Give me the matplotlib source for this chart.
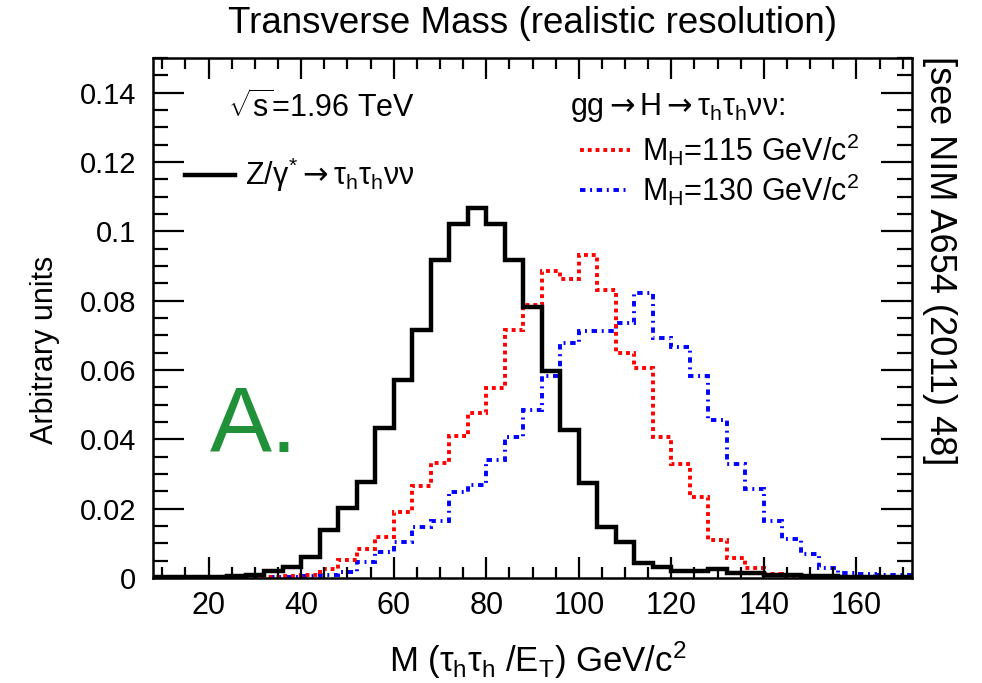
import numpy as np
import matplotlib
matplotlib.use('Agg')
import matplotlib.pyplot as plt
from matplotlib.ticker import MultipleLocator, FuncFormatter

plt.rcParams['font.family'] = ['Liberation Sans', 'DejaVu Sans']
plt.rcParams['mathtext.fontset'] = 'custom'
plt.rcParams['mathtext.rm'] = 'Liberation Sans'
plt.rcParams['mathtext.it'] = 'Liberation Sans'
plt.rcParams['mathtext.bf'] = 'Liberation Sans:bold'
plt.rcParams['mathtext.sf'] = 'DejaVu Sans'

# bin edges 8..172 GeV, width 4
edges = np.arange(8, 173, 4)

z_tautau = [0.0002, 0.0002, 0.0002, 0.0003, 0.0005, 0.0009, 0.0021, 0.0033, 0.0061, 0.0139,
            0.0201, 0.0278, 0.0432, 0.0572, 0.0716, 0.0918, 0.1022, 0.1068, 0.1022, 0.0916,
            0.0783, 0.0596, 0.0427, 0.0273, 0.0148, 0.0105, 0.0042, 0.0033, 0.0021, 0.0020,
            0.0025, 0.0015, 0.0013, 0.0010, 0.0008, 0.0006, 0.0005, 0.0004, 0.0003, 0.0003,
            0.0002]
higgs_115 = [0.0002, 0.0002, 0.0002, 0.0002, 0.0002, 0.0002, 0.0002, 0.0005, 0.0009, 0.0025,
             0.0052, 0.0083, 0.0117, 0.0191, 0.0264, 0.0331, 0.0410, 0.0477, 0.0548, 0.0716,
             0.0788, 0.0887, 0.0862, 0.0932, 0.0831, 0.0649, 0.0605, 0.0406, 0.0329, 0.0233,
             0.0110, 0.0057, 0.0028, 0.0012, 0.0007, 0.0003, 0.0003, 0.0003, 0.0003, 0.0003,
             0.0003]
higgs_130 = [0.0002, 0.0002, 0.0002, 0.0002, 0.0002, 0.0002, 0.0002, 0.0002, 0.0005, 0.0009,
             0.0018, 0.0047, 0.0076, 0.0105, 0.0148, 0.0165, 0.0249, 0.0268, 0.0340, 0.0408,
             0.0485, 0.0583, 0.0678, 0.0713, 0.0713, 0.0735, 0.0822, 0.0692, 0.0665, 0.0583,
             0.0456, 0.0328, 0.0256, 0.0165, 0.0112, 0.0069, 0.0028, 0.0015, 0.0012, 0.0010,
             0.0008]

fig = plt.figure(figsize=(9.82, 6.83), dpi=100)
ax = fig.add_axes([153 / 982, 105 / 683, 759 / 982, 520 / 683])

red_style = (0, (1, 1))
blue_style = (0, (1.4, 1.2, 0.5, 1.2))

ax.stairs(higgs_130, edges, color='blue', lw=2.8, linestyle=blue_style)
ax.stairs(higgs_115, edges, color='red', lw=2.8, linestyle=red_style)
ax.stairs(z_tautau, edges, color='black', lw=3.2)

ax.set_xlim(8, 172)
ax.set_ylim(0, 0.15)

ax.xaxis.set_major_locator(MultipleLocator(20))
ax.xaxis.set_minor_locator(MultipleLocator(5))
ax.yaxis.set_major_locator(MultipleLocator(0.02))
ax.yaxis.set_minor_locator(MultipleLocator(0.005))
ax.yaxis.set_major_formatter(FuncFormatter(lambda v, p: '0' if abs(v) < 1e-9 else ('%.2f' % v).rstrip('0')))

ax.tick_params(which='both', direction='in', top=True, right=True, width=1.6)
ax.tick_params(axis='x', which='major', length=15, labelsize=22, pad=9)
ax.tick_params(axis='x', which='minor', length=8)
ax.tick_params(axis='y', which='major', length=22, labelsize=21, pad=12)
ax.tick_params(axis='y', which='minor', length=11)
for s in ax.spines.values():
    s.set_linewidth(1.8)

ax.set_xlabel(r'M ($\tau_h\tau_h$ /E$_T$) GeV/c$^2$', fontsize=25, va='center')
ax.xaxis.set_label_coords(0.507, -0.158)
ax.set_ylabel('Arbitrary units', fontsize=22)
ax.yaxis.set_label_coords(-0.123, 0.438)
fig.text(532.5 / 982, 0.966, 'Transverse Mass (realistic resolution)', ha='center', va='center', fontsize=26.5)

# legend drawn by hand, as in the ROOT canvas
fs = 22
arrow = r'$\mathsf{\rightarrow}$'
ax.text(0.099, 0.904, r'$\sqrt{\mathrm{s}}$=1.96 TeV', transform=ax.transAxes, fontsize=fs, va='center')
ax.plot([0.042, 0.108], [0.775, 0.775], transform=ax.transAxes, color='black', lw=3.2)
ax.text(0.121, 0.775, r'Z/$\gamma^{*}$' + arrow + r'$\tau_h\tau_h\nu\nu$', transform=ax.transAxes, fontsize=fs, va='center')
ax.text(0.549, 0.904, 'gg' + arrow + 'H' + arrow + r'$\tau_h\tau_h\nu\nu$:', transform=ax.transAxes, fontsize=fs, va='center')
ax.plot([0.563, 0.628], [0.823, 0.823], transform=ax.transAxes, color='red', lw=2.8, linestyle=red_style)
ax.text(0.644, 0.823, r'M$_H$=115 GeV/c$^2$', transform=ax.transAxes, fontsize=fs, va='center')
ax.plot([0.563, 0.628], [0.746, 0.746], transform=ax.transAxes, color='blue', lw=2.8, linestyle=blue_style)
ax.text(0.644, 0.746, r'M$_H$=130 GeV/c$^2$', transform=ax.transAxes, fontsize=fs, va='center')

ax.text(0.075, 0.242, 'A.', transform=ax.transAxes, fontsize=67, color='#219139', va='baseline')

fig.text(0.957, 0.918, '[see NIM A654 (2011) 48]', rotation=-90, ha='center', va='top', fontsize=26)

fig.savefig('out.png', dpi=100)
